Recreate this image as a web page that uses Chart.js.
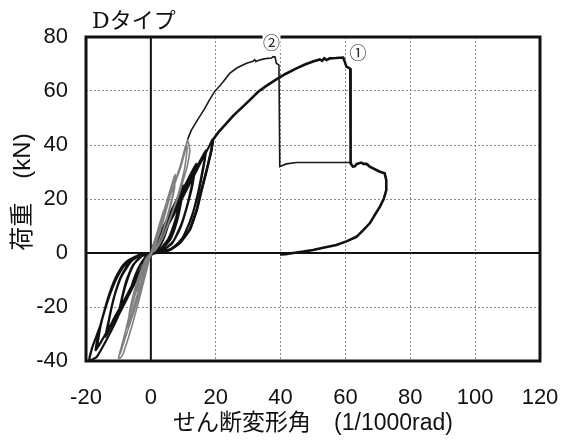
<!DOCTYPE html>
<html>
<head>
<meta charset="utf-8">
<script src="https://cdn.jsdelivr.net/npm/chart.js@4/dist/chart.umd.min.js"></script>
<style>
  html, body { margin: 0; padding: 0; background: #fff; }
  #wrap { width: 563px; height: 442px; }
</style>
</head>
<body>
<div id="wrap"><canvas id="c" width="563" height="442"></canvas></div>
<script>
// Axis ticks
const xTickValues = [-20, 0, 20, 40, 60, 80, 100, 120];
const yTickValues = [-40, -20, 0, 20, 40, 60, 80];

// Texts
const chartTitle = 'Dタイプ';
const xTitle = 'せん断変形角　(1/1000rad)';
const yTitle = '荷重　(kN)';

// Specimen ① : cyclic loops (x = shear angle, y = load)
const s1Cycles = [
  [0,0],[1,3.5],[2,6.5],[3,9],[2.4,5.5],[1.5,2],[0.5,0.3],[-0.5,-0.8],[-1.5,-4],[-3,-8.5],[-2.3,-5],[-1.2,-1.8],[0,0],
  [2,5],[4,10],[6.5,16],[5.5,11],[4,5.5],[2.5,2],[1,0.5],[-1,-1],[-2.5,-4.5],[-4.5,-9.5],[-6.5,-15],[-5.5,-10.5],[-4,-6],[-2.5,-2.8],[-1,-0.6],[0,0],
  [3,7.5],[6,15],[8.5,21],[10,25],[9,19],[7.5,12],[5.5,5.5],[3,1.5],[1,0.2],[-1,-1.5],[-4,-9],[-7,-16],[-10,-23],[-9,-17],[-7.5,-10],[-5.5,-4.5],[-3,-1.2],[0,0],
  [2.5,5.5],[5.5,13],[8,19.5],[10,24],[9.2,18],[8,11.5],[6,5],[3.5,1.6],[1,0.1],[-1,-1.2],[-3.5,-7.5],[-6.5,-14.5],[-9.5,-22],[-8.7,-16],[-7,-9],[-5,-3.8],[-2.5,-0.9],[0,0],
  [3.5,8],[7,16.5],[10.5,25],[14,33],[13,27],[11.5,19],[9.5,11],[7,4.5],[4,1.2],[1.5,0.2],[-1,-1.8],[-4,-8.5],[-7.5,-16.5],[-11,-24],[-14,-31],[-13,-25],[-11.5,-17],[-9.5,-9.5],[-7,-4],[-4,-1],[0,0],
  [3,6.5],[6.5,14.5],[10,22.5],[13.5,31],[12.8,25],[11,16.5],[9,9],[6.5,3.5],[3.5,0.9],[1,0.1],[-1.2,-2],[-4.5,-9],[-8,-17],[-11.5,-24.5],[-13.5,-29.5],[-12.6,-23],[-11,-15],[-9,-8.5],[-6,-3],[-3,-0.6],[0,0],
  [4,9],[8,18.5],[12.5,28],[17,38],[16,31],[14.5,22],[12.5,13],[10,6],[7,2],[4,0.6],[1,0],[-1.5,-2.5],[-5,-10.5],[-9,-19.5],[-13,-28],[-17,-36],[-16,-29],[-14,-20],[-12,-12.5],[-9.5,-6.5],[-6.5,-2.5],[-3.5,-0.7],[0,0],
  [4.5,9.5],[9,19.5],[13,28.5],[16.8,36.5],[15.8,29],[14.2,20],[12,11.5],[9.5,5],[6.5,1.6],[3,0.3],[0,0],[-2,-3.5],[-6,-12.5],[-10,-21.5],[-13.5,-29],[-16.5,-35],[-15.5,-27],[-13.5,-18.5],[-11,-10.5],[-8.5,-5],[-5.5,-1.8],[-2.5,-0.3],[0,0],
  [2,3],[4,7.5],[7,14],[10,21],[13,28],[16,35],[18,39.5],[19,42],[18.7,38.1],[17.2,30.7],[15.6,23.3],[14.1,15.9],[12,8.5],[8.9,3.6],[5.9,1.1],[3,0.2],[0.5,-0.3],
  [-1.3,-2.6],[-4.4,-8.8],[-7.5,-16.2],[-10.6,-24.8],[-13.7,-32.2],[-16.7,-38.5],[-19,-40],[-18,-34.7],[-15.7,-27.3],[-13.7,-18.6],[-11.6,-11.2],[-9.6,-6.3],[-7.5,-3.2],[-4.9,-1.4],[-2.5,-0.4],[0,0]
];

// Specimen ① : final push to failure and unloading
const s1Backbone = [
  [0,0],[3,0.3],[6,1.3],[9,3.9],[12,8.7],[14.2,16],[15.7,23.5],[17.3,31],[18.7,38.3],[19.2,42],
  [21,45],[23.3,48],[25.5,51],[28.4,54.2],[30.8,57],[33.1,59.7],[35.5,61.8],[38.7,64.3],[41.5,66.3],
  [44.9,68.4],[47.5,69.8],[50,70.9],[52.1,71.7],[52.8,71.2],[53.5,72.1],[54.2,71.5],[55.2,72.1],[57,72.2],
  [59.3,72.4],[59.6,71.5],[60.3,69],[61.3,68.4],[61.5,68.2],[61.6,33.2],[62.3,32],[62.9,32.1],[63.5,33],
  [64.9,33.5],[65.5,33],[66.5,33],[67.5,32],[70.6,30.1],[72.1,29.5],[72.6,27],[72.6,23.3],[71.8,20],
  [70.6,17.1],[69,14],[67.5,11],[65.5,8.5],[63.4,6],[60.5,4.4],[57.2,3],[53.5,2],[50,1.1],[47,0.5],
  [43.9,0],[41.5,-0.4],[39.8,-0.5]
];

// Specimen ② : cyclic loops
const s2Cycles = [
  [0,0],[1.5,6],[3,12],[4,16],[3.6,12],[2.5,7],[1.2,2.5],[0,0],[-1.2,-4.5],[-2.8,-10.5],[-4,-15],[-3.5,-10.5],[-2.3,-5.5],[-1,-1.8],[0,0],
  [2,7],[4.5,17],[6.5,25],[7.5,29],[7.3,24],[6,17],[4.2,9.5],[2.3,3.8],[0.5,0.3],[-1.5,-5.5],[-3.5,-13],[-5.5,-21],[-7,-28],[-6.6,-22],[-5.3,-15],[-3.5,-8],[-1.7,-2.5],[0,0],
  [1.8,7],[4,15.5],[6,23.5],[7.3,28.5],[7,23],[5.6,16],[3.8,8.5],[2,3.2],[0,0],[-1.8,-6.5],[-3.8,-14],[-5.8,-22],[-6.8,-27],[-6.3,-20.5],[-5,-13.5],[-3.2,-7],[-1.5,-2],[0,0],
  [1.3,3.8],[3.5,11],[6.2,22],[9,32],[10.8,40],[11.2,39],[10.5,32],[9.5,26.5],[8,20],[6.4,14.5],[4.6,8.5],[3,4],[1.2,0.8],[0,0],
  [-1.5,-4],[-3,-9],[-5,-16],[-7,-25],[-8.8,-33.5],[-9.8,-38],[-9.1,-36],[-7.5,-30],[-5.3,-22],[-3,-12.5],[-1,-3.5],[0,0],
  [1.5,3.5],[3.3,9.7],[5.9,20.9],[8.9,30.7],[10.5,37.5],[11.3,42],[12,38.1],[11.2,32],[10,27],[8.5,21],[6.9,15.9],[5.3,10.5],[3.8,6],[1.5,1.2],[0,0],
  [-1.3,-3],[-2.4,-6],[-4.4,-12.5],[-6.5,-22.3],[-8.5,-32.2],[-10,-39],[-9.5,-39],[-8.5,-37.1],[-5.9,-27.3],[-3.4,-16.2],[-1.3,-6.3],[0,0]
];

// Specimen ② : final push to failure
const s2Backbone = [
  [11.3,42],[12.5,45.5],[14.5,49.5],[16.4,53.1],[18,56.5],[19.5,59.5],[22,63],[24.3,66.5],[26.5,68.5],
  [29.5,70.3],[31.5,71],[32,71.6],[32.4,70.9],[33.3,71.4],[34.6,71.8],[36,72.1],[37.2,72.2],[37.7,72.7],
  [38.3,72.6],[38.7,70.3],[39.5,69.6],[39.75,32],[41.8,33],[44.9,33.5],[61.5,33.5]
];

// Curve markers: [text, x, y]
const curveMarks = [['①', 63.9, 74.2], ['②', 37.2, 78]];

const toXY = arr => arr.map(p => ({ x: p[0], y: p[1] }));
const latinFont = "'Liberation Sans', Arial, 'Noto Sans CJK JP', sans-serif";

const framePlugin = {
  id: 'frame',
  beforeDatasetsDraw(chart) {
    const { ctx, chartArea: a, scales } = chart;
    const x0 = scales.x.getPixelForValue(0);
    const y0 = scales.y.getPixelForValue(0);
    ctx.save();
    ctx.strokeStyle = '#111';
    ctx.lineWidth = 2;
    ctx.beginPath();
    ctx.moveTo(x0, a.top); ctx.lineTo(x0, a.bottom);
    ctx.moveTo(a.left, y0); ctx.lineTo(a.right, y0);
    ctx.stroke();
    ctx.restore();
  },
  afterDatasetsDraw(chart) {
    const { ctx, chartArea: a, scales } = chart;
    ctx.save();
    ctx.strokeStyle = '#111';
    ctx.lineWidth = 3;
    ctx.strokeRect(a.left, a.top, a.right - a.left, a.bottom - a.top);

    ctx.font = "17px 'Noto Sans CJK JP', 'DejaVu Serif', serif";
    ctx.textAlign = 'center';
    ctx.textBaseline = 'middle';
    curveMarks.forEach(m => {
      const px = scales.x.getPixelForValue(m[1]);
      const py = scales.y.getPixelForValue(m[2]);
      ctx.fillStyle = '#fff';
      ctx.fillRect(px - 9, py - 9, 18, 18);
      ctx.fillStyle = '#222';
      ctx.fillText(m[0], px, py);
    });

    // chart heading
    ctx.fillStyle = '#111';
    ctx.textAlign = 'left';
    ctx.font = "22px 'DejaVu Serif', 'Noto Sans CJK JP', serif";
    ctx.fillText(chartTitle, a.left + 6, 22);

    // vertical axis title
    ctx.save();
    ctx.translate(23, 192);
    ctx.rotate(-Math.PI / 2);
    ctx.textAlign = 'center';
    ctx.font = "24px " + latinFont;
    ctx.fillText(yTitle, 0, 0);
    ctx.restore();
    ctx.restore();
  }
};

new Chart(document.getElementById('c'), {
  type: 'scatter',
  data: {
    datasets: [
      { label: '② 繰返し', data: toXY(s2Cycles), showLine: true, borderColor: '#808080', borderWidth: 1.6, pointRadius: 0, tension: 0.15, order: 0 },
      { label: '②', data: toXY(s2Backbone), showLine: true, borderColor: '#1a1a1a', borderWidth: 1.6, pointRadius: 0, tension: 0, order: 1 },
      { label: '①', data: toXY(s1Backbone), showLine: true, borderColor: '#111', borderWidth: 2.6, pointRadius: 0, tension: 0, order: 2 },
      { label: '① 繰返し', data: toXY(s1Cycles), showLine: true, borderColor: '#111', borderWidth: 2.2, pointRadius: 0, tension: 0.15, order: 3 }
    ]
  },
  options: {
    responsive: false,
    animation: false,
    devicePixelRatio: 1,
    layout: { padding: { top: 37, right: 23, bottom: 0, left: 0 } },
    plugins: { legend: { display: false }, tooltip: { enabled: false } },
    scales: {
      x: {
        type: 'linear',
        min: xTickValues[0],
        max: xTickValues[xTickValues.length - 1],
        ticks: { stepSize: xTickValues[1] - xTickValues[0], padding: 24, color: '#111', font: { family: latinFont, size: 22 } },
        grid: { color: '#8c8c8c', lineWidth: 1, drawTicks: false },
        border: { display: false, dash: [2, 2] },
        title: { display: true, text: xTitle, color: '#111', font: { family: latinFont, size: 23 }, padding: { top: 0, bottom: 5 } },
        afterFit(s) { s.height = 81; s.paddingLeft = 0; s.paddingRight = 0; }
      },
      y: {
        type: 'linear',
        min: yTickValues[0],
        max: yTickValues[yTickValues.length - 1],
        ticks: { stepSize: yTickValues[1] - yTickValues[0], padding: 18, color: '#111', font: { family: latinFont, size: 22 } },
        grid: { color: '#8c8c8c', lineWidth: 1, drawTicks: false },
        border: { display: false, dash: [2, 2] },
        title: { display: false },
        afterFit(s) { s.width = 86; s.paddingTop = 0; s.paddingBottom = 0; }
      }
    }
  },
  plugins: [framePlugin]
});
</script>
</body>
</html>
